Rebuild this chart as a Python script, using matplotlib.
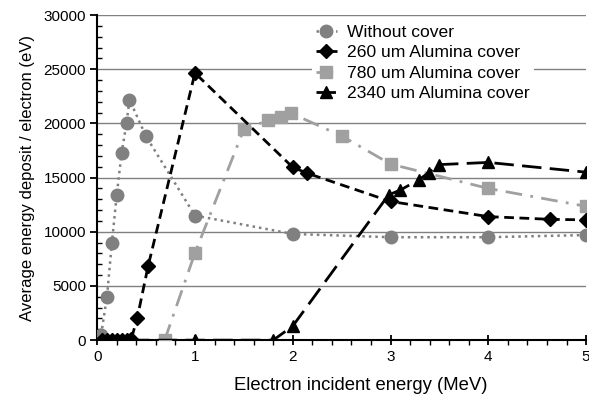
import matplotlib
matplotlib.use("Agg")
import matplotlib.pyplot as plt
from matplotlib.ticker import MultipleLocator

plt.rcParams['font.family'] = ['Liberation Sans', 'DejaVu Sans']

# data
x_none = [0.04, 0.1, 0.15, 0.2, 0.25, 0.3, 0.33, 0.5, 1.0, 2.0, 3.0, 4.0, 5.0]
y_none = [500, 4000, 8950, 13400, 17300, 20000, 22200, 18800, 11500, 9800, 9500, 9500, 9700]

x_260 = [0.05, 0.1, 0.15, 0.2, 0.25, 0.3, 0.35, 0.41, 0.52, 1.0, 2.0, 2.15, 3.0, 4.0, 4.63, 5.0]
y_260 = [0, 0, 0, 0, 0, 0, 150, 2050, 6800, 24650, 15950, 15400, 12800, 11400, 11150, 11100]

x_780 = [0.69, 1.0, 1.5, 1.75, 1.88, 1.98, 2.5, 3.0, 4.0, 5.0]
y_780 = [0, 8050, 19450, 20300, 20600, 20950, 18850, 16250, 14000, 12350]

x_2340 = [0.05, 0.1, 0.15, 0.2, 0.25, 0.3, 1.0, 1.8, 2.0, 2.98, 3.1, 3.29, 3.39, 3.5, 4.0, 5.0]
y_2340 = [0, 0, 0, 0, 0, 0, 0, 0, 1300, 13400, 13850, 14800, 15450, 16200, 16400, 15500]

labels = ['Without cover', '260 um Alumina cover', '780 um Alumina cover', '2340 um Alumina cover']

fig = plt.figure(figsize=(5.89, 3.96), dpi=100)
ax = fig.add_axes([0.165, 0.141, 0.83, 0.821])

ax.plot(x_none, y_none, color='#808080', linestyle=(0, (1, 1.6)), linewidth=1.8,
        marker='o', markersize=9, label=labels[0], zorder=3)
ax.plot(x_260, y_260, color='black', linestyle=(0, (3.5, 2)), linewidth=2,
        marker='D', markersize=7, label=labels[1], zorder=4)
ax.plot(x_780, y_780, color='#a0a0a0', linestyle=(0, (6, 3, 1, 3)), linewidth=2,
        marker='s', markersize=9, label=labels[2], zorder=3)
ax.plot(x_2340, y_2340, color='black', linestyle=(0, (7, 3)), linewidth=2,
        marker='^', markersize=9, label=labels[3], zorder=5)

ax.set_xlim(0, 5)
ax.set_ylim(0, 30000)
ax.xaxis.set_major_locator(MultipleLocator(1))
ax.xaxis.set_minor_locator(MultipleLocator(0.2))
ax.yaxis.set_major_locator(MultipleLocator(5000))
ax.yaxis.set_minor_locator(MultipleLocator(1000))
ax.grid(axis='y', which='major', color='#808080', linewidth=1)
ax.set_axisbelow(True)

for s in ['top', 'right']:
    ax.spines[s].set_visible(False)
for s in ['left', 'bottom']:
    ax.spines[s].set_linewidth(1.5)

ax.tick_params(axis='x', which='major', direction='inout', length=7, width=1.3, labelsize=11)
ax.tick_params(axis='x', which='minor', direction='out', length=3.5, width=1)
ax.tick_params(axis='y', which='major', direction='out', length=5, width=1.3, pad=3, labelsize=11)
ax.tick_params(axis='y', which='minor', direction='in', length=3.5, width=1)

ax.set_xlabel('Electron incident energy (MeV)', fontsize=13.3, labelpad=8)
ax.xaxis.set_label_coords(0.54, -0.112)
ax.set_ylabel('Average energy deposit / electron (eV)', fontsize=12, labelpad=6)

leg = ax.legend(loc='upper right', bbox_to_anchor=(0.893, 0.982), frameon=True, fontsize=12.6,
                handlelength=1.2, handletextpad=0.6, labelspacing=0.3, borderpad=0.2,
                borderaxespad=0)
leg.get_frame().set_edgecolor('none')
leg.get_frame().set_facecolor('white')
leg.get_frame().set_alpha(1)

fig.savefig('out.png', dpi=100)
